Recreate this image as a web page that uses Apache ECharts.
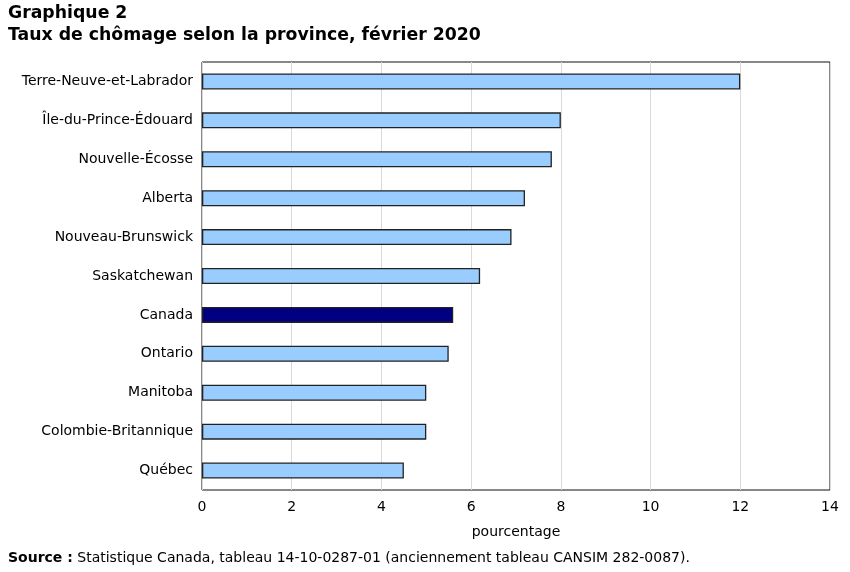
<!DOCTYPE html>
<html><head><meta charset="utf-8">
<script src="https://cdn.jsdelivr.net/npm/echarts@6/dist/echarts.min.js"></script>
<style>html,body{margin:0;padding:0;background:#fff}#c{width:850px;height:572px}</style>
</head><body><div id="c"></div>
<script>
const categories = ["Terre-Neuve-et-Labrador","Île-du-Prince-Édouard","Nouvelle-Écosse","Alberta","Nouveau-Brunswick","Saskatchewan","Canada","Ontario","Manitoba","Colombie-Britannique","Québec"];
const values = [12.0, 8.0, 7.8, 7.2, 6.9, 6.2, 5.6, 5.5, 5.0, 5.0, 4.5];
const highlight = "Canada";
const xTicks = [0, 2, 4, 6, 8, 10, 12, 14];

const FONT = "DejaVu Sans";
const chart = echarts.init(document.getElementById('c'), null, {renderer:'canvas'});
chart.setOption({
  animation: false,
  textStyle: {fontFamily: FONT},
  title: [
    {text: "Graphique 2\nTaux de chômage selon la province, février 2020", left: 3, top: -2,
     textStyle: {fontFamily: FONT, fontSize: 17.3, fontWeight: 'bold', color: '#000', lineHeight: 22}},
    {text: "{b|Source :} Statistique Canada, tableau 14-10-0287-01 (anciennement tableau CANSIM 282-0087).",
     left: 3, top: 546,
     textStyle: {fontFamily: FONT, fontSize: 14, fontWeight: 'normal', color: '#000',
       rich: {b: {fontFamily: FONT, fontSize: 14, fontWeight: 'bold', color: '#000'}}}}
  ],
  grid: {left: 202, right: 20, top: 62, bottom: 82, show: true, borderColor: '#111', borderWidth: 1},
  xAxis: {
    type: 'value', min: xTicks[0], max: xTicks[xTicks.length-1], interval: 2,
    name: 'pourcentage', nameLocation: 'middle', nameGap: 35,
    nameTextStyle: {fontFamily: FONT, fontSize: 14, color: '#000'},
    axisLine: {show: false}, axisTick: {show: false},
    axisLabel: {fontFamily: FONT, fontSize: 14, color: '#000', margin: 10},
    splitLine: {show: true, lineStyle: {color: '#d9d9d9', width: 1}}
  },
  yAxis: {
    type: 'category', data: categories, inverse: true,
    axisLine: {show: false}, axisTick: {show: false},
    axisLabel: {fontFamily: FONT, fontSize: 14, color: '#000', margin: 9},
    splitLine: {show: false}
  },
  series: [{
    type: 'bar', barWidth: 16,
    data: values.map((v, i) => ({value: v, itemStyle: {color: categories[i] === highlight ? '#000080' : '#99ccff'}})),
    itemStyle: {borderColor: '#222', borderWidth: 1.3}
  }]
});
</script></body></html>
